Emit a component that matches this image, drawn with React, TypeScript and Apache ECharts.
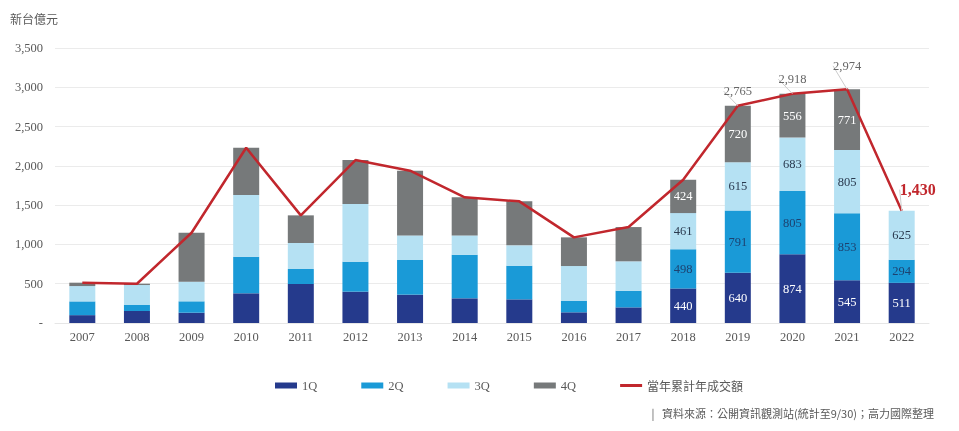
import React, { useEffect, useRef } from "react";
import * as echarts from "echarts";

const years = ["2007","2008","2009","2010","2011","2012","2013","2014","2015","2016","2017","2018","2019","2020","2021","2022"];
const q1 = [100, 153, 131, 378, 496, 399, 361, 314, 301, 136, 199, 440, 640, 874, 545, 511];
const q2 = [175, 76, 145, 466, 191, 381, 441, 555, 428, 148, 212, 498, 791, 805, 853, 294];
const q3 = [195, 254, 250, 784, 331, 734, 313, 246, 259, 441, 374, 461, 615, 683, 805, 625];
const q4 = [43, 17, 623, 602, 352, 560, 823, 484, 560, 365, 436, 424, 720, 556, 771, 0];
const totals = [513, 500, 1149, 2230, 1370, 2074, 1938, 1599, 1548, 1090, 1221, 1823, 2765, 2918, 2974, 1430];
const labeledFrom = 11;
const totalLabelYears = ["2019", "2020", "2021"];
const highlightYear = "2022";

const serif = "Liberation Serif";
const cjk = "Noto Sans CJK TC";

export default function App() {
  const ref = useRef<HTMLDivElement>(null);
  useEffect(() => {
    const chart = echarts.init(ref.current!, null, { renderer: "svg" });
    const fmt = (v: number) => v.toLocaleString("en-US");
    const barSeries = (name: string, data: number[], color: string, labelColor: string) => ({
      name,
      type: "bar",
      stack: "q",
      barWidth: 26,
      data,
      itemStyle: { color },
      label: {
        show: true,
        position: "inside",
        color: labelColor,
        fontFamily: serif,
        fontSize: 12.5,
        formatter: (p: any) => (p.dataIndex >= labeledFrom && p.value > 0 ? String(p.value) : ""),
      },
    });
    const lineData = totals.map((v, i) => {
      if (years[i] === highlightYear) {
        return {
          value: v,
          label: {
            show: true,
            formatter: fmt(v),
            color: "#c1272d",
            fontWeight: "bold",
            fontSize: 16,
            fontFamily: serif,
            position: "top",
          },
        };
      }
      if (totalLabelYears.includes(years[i])) {
        return {
          value: v,
          label: {
            show: true,
            formatter: fmt(v),
            color: "#666",
            fontSize: 12.5,
            fontFamily: serif,
            position: "top",
          },
        };
      }
      return { value: v, label: { show: false } };
    });
    chart.setOption({
      animation: false,
      title: [
        {
          text: "新台億元",
          left: 5,
          top: 7,
          textStyle: { fontFamily: cjk, fontSize: 12, fontWeight: "normal", color: "#595959" },
        },
        {
          text: "|   資料來源：公開資訊觀測站(統計至9/30)；高力國際整理",
          right: 20,
          top: 402,
          textStyle: { fontFamily: cjk, fontSize: 11, fontWeight: "normal", color: "#595959" },
        },
      ],
      legend: {
        left: 270,
        top: 374,
        itemWidth: 22,
        itemHeight: 6,
        itemGap: 44,
        textStyle: { fontFamily: serif, fontSize: 12.5, color: "#595959" },
        data: [
          { name: "1Q", icon: "rect" },
          { name: "2Q", icon: "rect" },
          { name: "3Q", icon: "rect" },
          { name: "4Q", icon: "rect" },
          {
            name: "當年累計年成交額",
            icon: "path://M0,0 L22,0 L22,3 L0,3 Z",
            textStyle: { fontFamily: cjk, fontSize: 12 },
          },
        ],
      },
      grid: { left: 55, right: 30, top: 48, bottom: 108 },
      xAxis: {
        type: "category",
        data: years,
        axisLine: { show: true, lineStyle: { color: "#e6e6e6" } },
        axisTick: { show: false },
        axisLabel: { fontFamily: serif, fontSize: 12.5, color: "#595959", margin: 7 },
      },
      yAxis: {
        type: "value",
        min: 0,
        max: 3500,
        interval: 500,
        axisLine: { show: false },
        axisTick: { show: false },
        splitLine: { lineStyle: { color: "#ebebeb" } },
        axisLabel: {
          fontFamily: serif,
          fontSize: 12.5,
          color: "#595959",
          margin: 12,
          formatter: (v: number) => (v === 0 ? "-" : fmt(v)),
        },
      },
      series: [
        barSeries("1Q", q1, "#253a8c", "#ffffff"),
        barSeries("2Q", q2, "#1a9ad7", "#1d4270"),
        barSeries("3Q", q3, "#b5e1f3", "#2a3a4f"),
        barSeries("4Q", q4, "#76797a", "#ffffff"),
        {
          name: "當年累計年成交額",
          type: "line",
          data: lineData,
          symbol: "circle",
          symbolSize: 0,
          showSymbol: true,
          lineStyle: { color: "#c1272d", width: 2.5 },
          itemStyle: { color: "#c1272d" },
          labelLine: { show: true, lineStyle: { color: "#cccccc", width: 1 } },
          labelLayout: (p: any) => {
            const y = years[p.dataIndex];
            if (y === "2022") return { dx: 16, dy: -8 };
            if (y === "2021") return { dy: -12 };
            if (y === "2020") return { dy: -3 };
            if (y === "2019") return { dy: -3 };
            return {};
          },
          z: 5,
        },
      ],
    });
    return () => chart.dispose();
  }, []);
  return <div ref={ref} style={{ position: "fixed", left: 0, top: 0, width: 959, height: 431 }} />;
}
